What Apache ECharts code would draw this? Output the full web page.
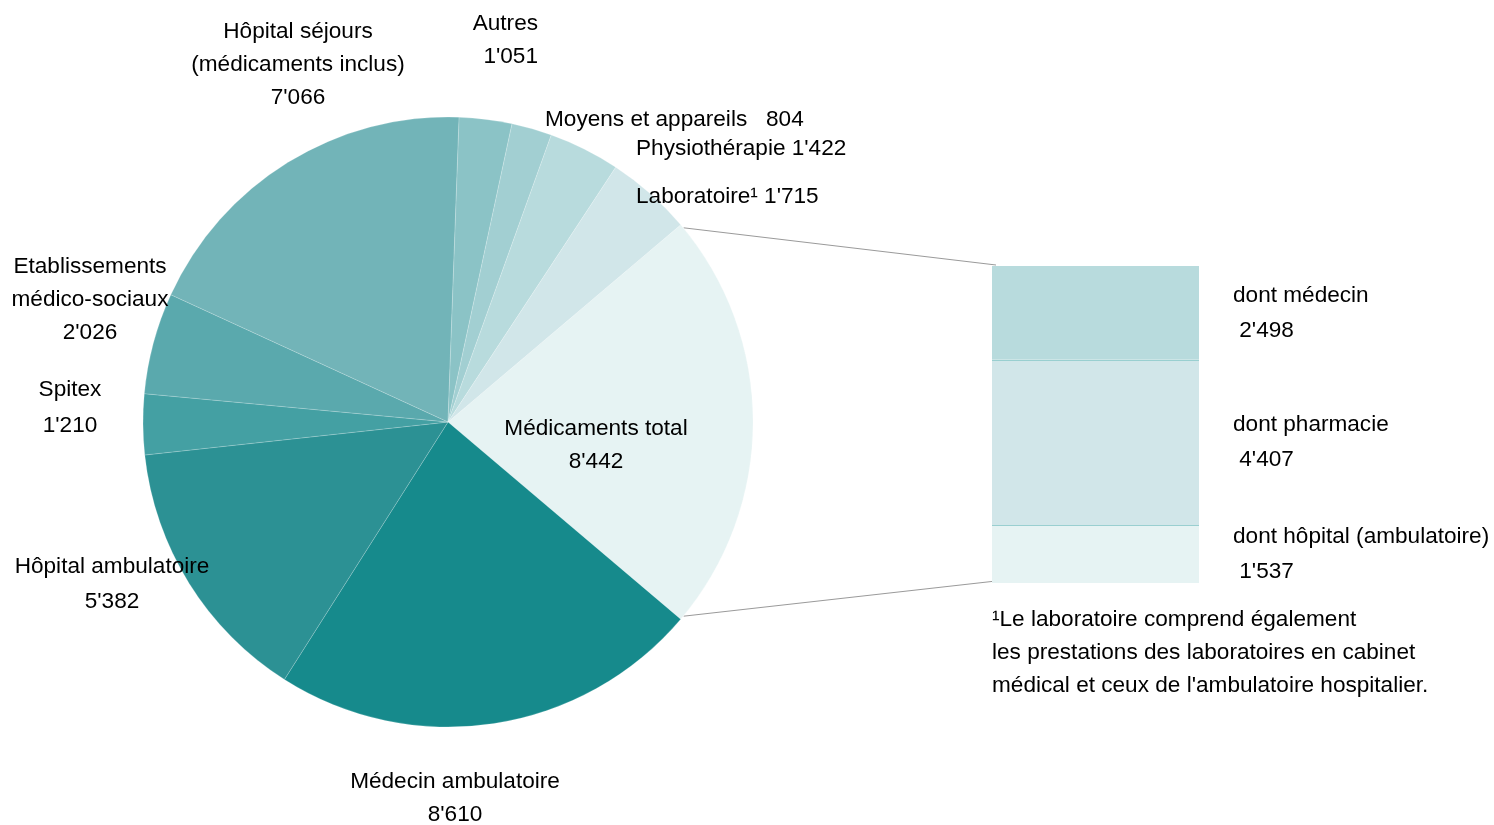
<!DOCTYPE html>
<html>
<head>
<meta charset="utf-8">
<script src="https://cdn.jsdelivr.net/npm/echarts@6/dist/echarts.min.js"></script>
<style>html,body{margin:0;padding:0;background:#fff}#c{width:1494px;height:825px}</style>
</head>
<body>
<div id="c"></div>
<script>
// ---- data ----
var pieNames = ['Médicaments total', 'Médecin ambulatoire', 'Hôpital ambulatoire', 'Spitex',
  'Etablissements\nmédico-sociaux', 'Hôpital séjours\n(médicaments inclus)', 'Autres',
  'Moyens et appareils', 'Physiothérapie', 'Laboratoire¹'];
var pieValues = [8442, 8610, 5382, 1210, 2026, 7066, 1051, 804, 1422, 1715];
var barNames = ['dont médecin', 'dont pharmacie', 'dont hôpital (ambulatoire)'];
var barValues = [2498, 4407, 1537];
var footnote = ['¹Le laboratoire comprend également', 'les prestations des laboratoires en cabinet', 'médical et ceux de l\'ambulatoire hospitalier.'];

// ---- styling ----
var pieColors = ['#e6f3f3', '#168a8c', '#2c9194', '#44a0a3', '#5aa9ad', '#72b4b8', '#8bc3c6', '#a2cfd2', '#b8dbdd', '#d1e6e9'];
var barColors = ['#b8dbdd', '#d1e6e9', '#e6f3f3'];
var labelSep = ['\n', '\n', '\n', '\n', '\n', '\n', '\n ', '   ', ' ', ' '];
var labelPos = [
  [596, 445, 'center', 33], [455, 798, 'center', 33], [112, 584, 'center', 35], [70, 408, 'center', 36],
  [90, 299.5, 'center', 33], [298, 65, 'center', 33], [538, 40.5, 'right', 33],
  [545, 120, 'left', 33], [636, 149, 'left', 33], [636, 197, 'left', 33]
];
var FONT = '"Liberation Sans", Arial, sans-serif';
var FS = 22.6;
var CX = 448, CY = 422, R = 305;

function fmt(v) { return String(v).replace(/\B(?=(\d{3})+(?!\d))/g, "'"); }

var total = pieValues.reduce(function (a, b) { return a + b; }, 0);
var startAngle = pieValues[0] / total * 180;
var barTotal = barValues.reduce(function (a, b) { return a + b; }, 0);

var pieData = pieNames.map(function (n, i) {
  return {
    name: n, value: pieValues[i],
    itemStyle: { color: pieColors[i] },
    label: { lineHeight: labelPos[i][3], align: labelPos[i][2] }
  };
});

var barSeries = barNames.map(function (n, i) {
  var s = {
    type: 'bar', stack: 'm', name: n, data: [barValues[i]], barWidth: '100%',
    itemStyle: { color: barColors[i] },
    silent: true,
    label: {
      show: true, position: 'right', distance: 34, align: 'left',
      color: '#000', fontSize: FS, fontFamily: FONT, lineHeight: 35,
      formatter: function () { return n + '\n ' + fmt(barValues[i]); }
    }
  };
  if (i === 0) {
    s.markLine = {
      silent: true, symbol: 'none', label: { show: false },
      lineStyle: { color: '#99cfd0', width: 1, type: 'solid' },
      data: [{ yAxis: barValues[0] }, { yAxis: barValues[0] + barValues[1] }]
    };
  }
  return s;
});

var chart = echarts.init(document.getElementById('c'), null, { renderer: 'canvas' });
var option = {
  animation: false,
  backgroundColor: '#fff',
  grid: { left: 992, top: 266, width: 207, height: 317 },
  xAxis: { type: 'category', data: ['Médicaments'], show: false },
  yAxis: { type: 'value', min: 0, max: barTotal, inverse: true, show: false },
  series: [{
    type: 'pie', center: [CX, CY], radius: [0, R], startAngle: startAngle, clockwise: true,
    avoidLabelOverlap: false, silent: true,
    itemStyle: { borderColor: 'rgba(255,255,255,0.3)', borderWidth: 0.6 },
    label: {
      show: true, color: '#000', fontSize: FS, fontFamily: FONT,
      formatter: function (p) { return pieNames[p.dataIndex] + labelSep[p.dataIndex] + fmt(pieValues[p.dataIndex]); }
    },
    labelLine: { show: false },
    labelLayout: function (p) {
      var lp = labelPos[p.dataIndex];
      return { x: lp[0], y: lp[1], align: lp[2], verticalAlign: 'middle' };
    },
    data: pieData
  }].concat(barSeries)
};
chart.setOption(option);

// connector lines from Médicaments slice edges to the bar corners
var a1 = startAngle * Math.PI / 180;
var p1 = [CX + R * Math.cos(a1) + 3, CY - R * Math.sin(a1) + 3];
var p2 = [CX + R * Math.cos(-a1) + 3, CY - R * Math.sin(-a1) - 3];
var topLeft = chart.convertToPixel({ gridIndex: 0 }, [0, 0]);
var botLeft = chart.convertToPixel({ gridIndex: 0 }, [0, barTotal]);
var gl = 992 + 4;
chart.setOption({
  graphic: [
    { type: 'line', shape: { x1: p1[0], y1: p1[1], x2: gl, y2: topLeft[1] - 1 }, style: { stroke: '#9a9a9a', lineWidth: 1 }, silent: true },
    { type: 'line', shape: { x1: p2[0], y1: p2[1], x2: gl, y2: botLeft[1] - 2 }, style: { stroke: '#9a9a9a', lineWidth: 1 }, silent: true },
    { type: 'text', left: 992, top: 603, silent: true,
      style: { text: footnote.join('\n'), fill: '#000', font: FS + 'px ' + FONT, lineHeight: 33 } }
  ]
});
</script>
</body>
</html>
